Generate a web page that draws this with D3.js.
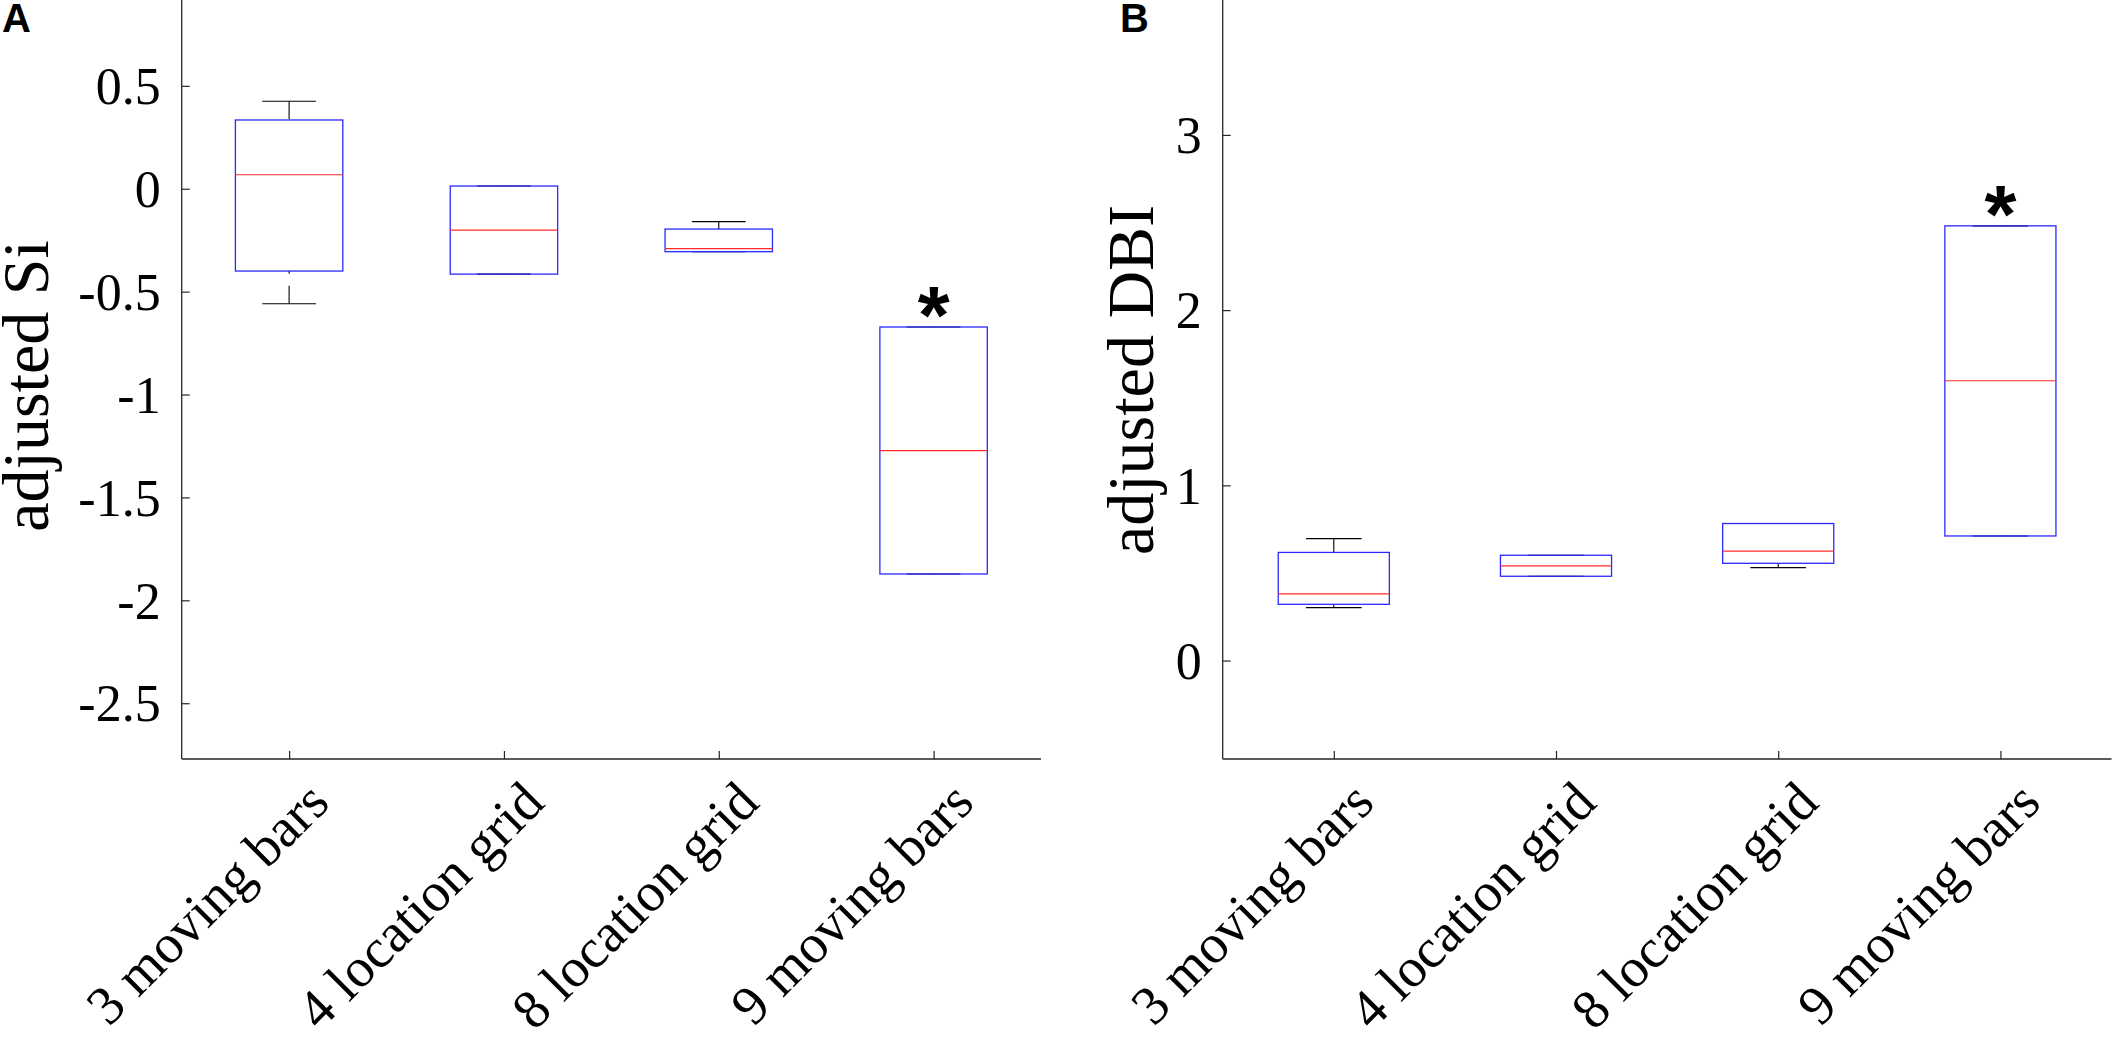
<!DOCTYPE html>
<html>
<head>
<meta charset="utf-8">
<script src="https://cdn.jsdelivr.net/npm/d3@7"></script>
<style>
  html, body { margin: 0; padding: 0; background: #fff; }
  svg { display: block; }
  .tick text { font-family: "Liberation Serif", "Times New Roman", serif; fill: #000; }
</style>
</head>
<body>
<svg id="chart" width="2116" height="1040"></svg>
<script>
const categories = ['3 moving bars', '4 location grid', '8 location grid', '9 moving bars'];
const significant = [false, false, false, true];

// panel A: adjusted Si
const siLower  = [-0.559, -0.415, -0.306, -1.872];
const siQ1     = [-0.400, -0.415, -0.306, -1.872];
const siMedian = [ 0.068, -0.201, -0.291, -1.273];
const siQ3     = [ 0.334,  0.013, -0.196, -0.672];
const siUpper  = [ 0.425,  0.013, -0.160, -0.672];
const siTicks  = [-2.5, -2, -1.5, -1, -0.5, 0, 0.5];
const siLimits = [-2.771, 0.917];

// panel B: adjusted DBI
const dbiLower  = [0.302, 0.481, 0.530, 0.711];
const dbiQ1     = [0.321, 0.481, 0.555, 0.711];
const dbiMedian = [0.380, 0.540, 0.624, 1.597];
const dbiQ3     = [0.617, 0.601, 0.782, 2.481];
const dbiUpper  = [0.696, 0.601, 0.782, 2.481];
const dbiTicks  = [0, 1, 2, 3];
const dbiLimits = [-0.562, 3.770];

const svg = d3.select('#chart');
const SERIF = '"Liberation Serif", "Times New Roman", serif';
const SANS = '"Liberation Sans", Arial, sans-serif';
const AXIS_COLOR = '#262626';

function boxPanel(opt) {
  const g = svg.append('g');
  const x = d3.scalePoint().domain(categories).range([opt.left, opt.right]).padding(0.5);
  const y = d3.scaleLinear().domain(opt.limits).range([opt.bottom, opt.top]);
  const step = x.step();
  const boxW = step * 0.5, capW = step * 0.25;

  const rows = categories.map((c, i) => ({
    c, lo: opt.lower[i], q1: opt.q1[i], med: opt.median[i], q3: opt.q3[i], hi: opt.upper[i], sig: significant[i]
  }));

  // axes (left and bottom only, ticks pointing inward)
  const yAxis = d3.axisLeft(y).tickValues(opt.ticks).tickSize(-8).tickSizeOuter(0).tickPadding(21)
    .tickFormat(d => String(d));
  const ga = g.append('g').attr('transform', `translate(${opt.left},0)`).call(yAxis);
  ga.select('.domain').attr('stroke', AXIS_COLOR).attr('stroke-width', 1.3)
    .attr('d', `M0,${opt.bottom}V${opt.top}`);
  ga.selectAll('.tick line').attr('stroke', AXIS_COLOR).attr('stroke-width', 1.2);
  ga.selectAll('.tick text').style('font-size', '52px').attr('dy', '0.34em');

  const xAxis = d3.axisBottom(x).tickSize(-8).tickSizeOuter(0);
  const gx = g.append('g').attr('transform', `translate(0,${opt.bottom})`).call(xAxis);
  gx.select('.domain').attr('stroke', AXIS_COLOR).attr('stroke-width', 1.3)
    .attr('d', `M${opt.left},0H${opt.right}`);
  gx.selectAll('.tick line').attr('stroke', AXIS_COLOR).attr('stroke-width', 1.2);
  gx.selectAll('.tick text')
    .style('font-size', '55px')
    .style('text-anchor', 'end')
    .attr('x', 0).attr('y', 0).attr('dy', 0)
    .attr('transform', 'translate(42,46) rotate(-45)');

  // y label
  g.append('text')
    .attr('transform', `translate(${opt.labelX},${opt.labelY}) rotate(-90)`)
    .attr('text-anchor', 'middle')
    .style('font-family', SERIF).style('font-size', '66px')
    .text(opt.ylabel);

  // boxes
  const box = g.append('g').selectAll('g').data(rows).join('g');

  // whiskers: dashed, drawn from the adjacent value toward the box
  box.append('line')
    .attr('x1', d => x(d.c)).attr('x2', d => x(d.c))
    .attr('y1', d => y(d.hi)).attr('y2', d => y(d.q3))
    .attr('stroke', '#000').attr('stroke-width', 1.1).attr('stroke-dasharray', '18,12');
  box.append('line')
    .attr('x1', d => x(d.c)).attr('x2', d => x(d.c))
    .attr('y1', d => y(d.lo)).attr('y2', d => y(d.q1))
    .attr('stroke', '#000').attr('stroke-width', 1.1).attr('stroke-dasharray', '18,12');
  box.selectAll('line.cap').data(d => [{ c: d.c, v: d.hi }, { c: d.c, v: d.lo }]).join('line')
    .attr('class', 'cap')
    .attr('x1', d => x(d.c) - capW / 2).attr('x2', d => x(d.c) + capW / 2)
    .attr('y1', d => y(d.v)).attr('y2', d => y(d.v))
    .attr('stroke', '#000').attr('stroke-width', 1.1);

  box.append('rect')
    .attr('x', d => x(d.c) - boxW / 2).attr('width', boxW)
    .attr('y', d => y(d.q3)).attr('height', d => y(d.q1) - y(d.q3))
    .attr('fill', 'none').attr('stroke', '#2a2aff').attr('stroke-width', 1.3);
  box.append('line')
    .attr('x1', d => x(d.c) - boxW / 2).attr('x2', d => x(d.c) + boxW / 2)
    .attr('y1', d => y(d.med)).attr('y2', d => y(d.med))
    .attr('stroke', '#ff2a2a').attr('stroke-width', 1.2);

  // significance stars
  box.filter(d => d.sig).append('text')
    .attr('x', d => x(d.c)).attr('y', d => y(d.hi) + 16)
    .attr('text-anchor', 'middle')
    .style('font-family', SANS).style('font-weight', 'bold')
    .style('font-size', '82px')
    .text('*');

  // panel letter
  svg.append('text')
    .attr('x', opt.letterX).attr('y', 32)
    .style('font-family', SANS).style('font-weight', 'bold')
    .style('font-size', '40px')
    .text(opt.letter);
}

boxPanel({
  letter: 'A', letterX: 2, ylabel: 'adjusted Si', labelX: 48, labelY: 386,
  left: 181.7, right: 1041, top: 0, bottom: 759, limits: siLimits, ticks: siTicks,
  lower: siLower, q1: siQ1, median: siMedian, q3: siQ3, upper: siUpper
});

boxPanel({
  letter: 'B', letterX: 1120, ylabel: 'adjusted DBI', labelX: 1153, labelY: 380,
  left: 1222.7, right: 2111.5, top: 0, bottom: 759, limits: dbiLimits, ticks: dbiTicks,
  lower: dbiLower, q1: dbiQ1, median: dbiMedian, q3: dbiQ3, upper: dbiUpper
});
</script>
</body>
</html>
